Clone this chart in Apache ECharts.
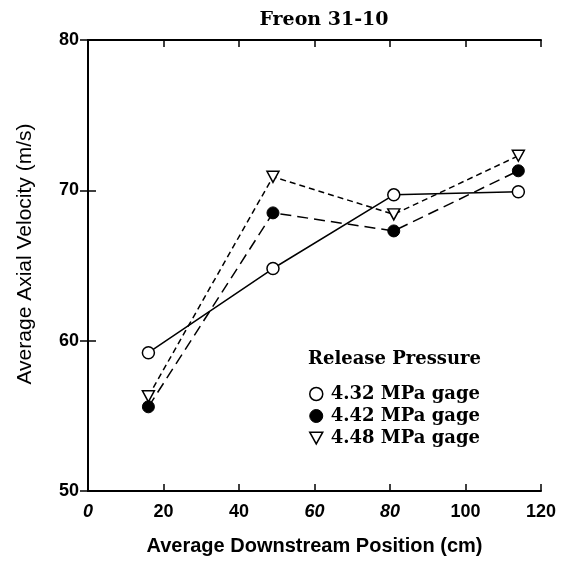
<!DOCTYPE html>
<html><head><meta charset="utf-8">
<script src="https://cdn.jsdelivr.net/npm/echarts@6/dist/echarts.min.js"></script>
<style>html,body{margin:0;padding:0;background:#fff}#c{width:572px;height:561px}</style>
</head><body><div id="c"></div>
<script>
const positions = [16, 49, 81, 114];
const p432 = [59.2, 64.8, 69.7, 69.9];
const p442 = [55.6, 68.5, 67.3, 71.3];
const p448 = [56.3, 70.9, 68.4, 72.3];
const seriesNames = ['4.32 MPa gage', '4.42 MPa gage', '4.48 MPa gage'];
const xTicks = [0, 20, 40, 60, 80, 100, 120];
const xItalic = [0, 60, 80];
const yTicks = [50, 60, 70, 80];

const pair = (ys) => positions.map((x, i) => [x, ys[i]]);
const triDown = 'path://M0,0 L10,0 L5,9 Z';
const chart = echarts.init(document.getElementById('c'));
const axisLine = {show: true, lineStyle: {color: '#000', width: 2}};
const tickStyle = {color: '#000', width: 1.5};
chart.setOption({
  animation: false,
  backgroundColor: '#fff',
  title: [
    {text: 'Freon 31-10', left: 319, top: 6, textAlign: 'center',
     textStyle: {fontFamily: 'DejaVu Serif', fontWeight: 'bold', fontSize: 19, color: '#000'}},
    {text: 'Release Pressure', left: 303, top: 345,
     textStyle: {fontFamily: 'DejaVu Serif', fontWeight: 'bold', fontSize: 18, color: '#000'}}
  ],
  legend: {
    orient: 'vertical', left: 304, top: 380, itemGap: 4, itemWidth: 13, itemHeight: 13,
    textStyle: {fontFamily: 'DejaVu Serif', fontWeight: 'bold', fontSize: 18, color: '#000', padding: [0, 0, 0, 3]},
    data: [
      {name: seriesNames[0], icon: 'circle', itemStyle: {color: '#fff', borderColor: '#000', borderWidth: 1.5}},
      {name: seriesNames[1], icon: 'circle', itemStyle: {color: '#000', borderColor: '#000', borderWidth: 1}},
      {name: seriesNames[2], icon: triDown, itemStyle: {color: '#fff', borderColor: '#000', borderWidth: 1.5}}
    ]
  },
  grid: {left: 88, right: 31, top: 40, bottom: 68},
  xAxis: [
    {type: 'value', min: 0, max: 120, interval: 20, position: 'bottom',
     name: 'Average Downstream Position (cm)', nameLocation: 'middle', nameGap: 45,
     nameTextStyle: {fontFamily: 'Liberation Sans', fontWeight: 'bold', fontSize: 20, color: '#000'},
     axisLine: axisLine, axisTick: {show: true, inside: true, length: 7, lineStyle: tickStyle},
     axisLabel: {fontFamily: 'Liberation Sans', fontWeight: 'bold', fontSize: 18, color: '#000', margin: 12,
       formatter: v => xTicks.includes(v) ? (xItalic.includes(v) ? '{i|' + v + '}' : String(v)) : '',
       rich: {i: {fontFamily: 'Liberation Sans', fontWeight: 'bold', fontStyle: 'italic', fontSize: 18, color: '#000'}}},
     splitLine: {show: false}},
    {type: 'value', min: 0, max: 120, interval: 20, position: 'top',
     axisLine: axisLine, axisTick: {show: true, inside: true, length: 7, lineStyle: tickStyle},
     axisLabel: {show: false}, splitLine: {show: false}}
  ],
  yAxis: [
    {type: 'value', min: 50, max: 80, interval: 10, position: 'left',
     name: 'Average Axial Velocity (m/s)', nameLocation: 'middle', nameGap: 52,
     nameTextStyle: {fontFamily: 'Liberation Sans', fontSize: 21, color: '#000', padding: [0, 0, 0, 23]},
     axisLine: axisLine, axisTick: {show: true, inside: true, length: 8, lineStyle: tickStyle},
     axisLabel: {fontFamily: 'Liberation Sans', fontWeight: 'bold', fontSize: 18, color: '#000', margin: 9,
       formatter: v => yTicks.includes(v) ? String(v) : ''},
     splitLine: {show: false}},
    {type: 'value', min: 50, max: 80, interval: 10, position: 'right',
     axisLine: axisLine, axisTick: {show: true, inside: true, length: 8, lineStyle: tickStyle},
     axisLabel: {show: false}, splitLine: {show: false}}
  ],
  series: [
    {name: seriesNames[0], type: 'line', data: pair(p432), symbol: 'circle', symbolSize: 12,
     itemStyle: {color: '#fff', borderColor: '#000', borderWidth: 1.5},
     lineStyle: {color: '#000', width: 1.5, type: 'solid'}, z: 3},
    {name: seriesNames[1], type: 'line', data: pair(p442), symbol: 'circle', symbolSize: 12,
     itemStyle: {color: '#000', borderColor: '#000', borderWidth: 1},
     lineStyle: {color: '#000', width: 1.5, type: [11, 6]}, z: 3},
    {name: seriesNames[2], type: 'line', data: pair(p448), symbol: triDown, symbolSize: [12, 11],
     itemStyle: {color: '#fff', borderColor: '#000', borderWidth: 1.5},
     lineStyle: {color: '#000', width: 1.5, type: [6, 4]}, z: 3}
  ]
});
</script></body></html>
